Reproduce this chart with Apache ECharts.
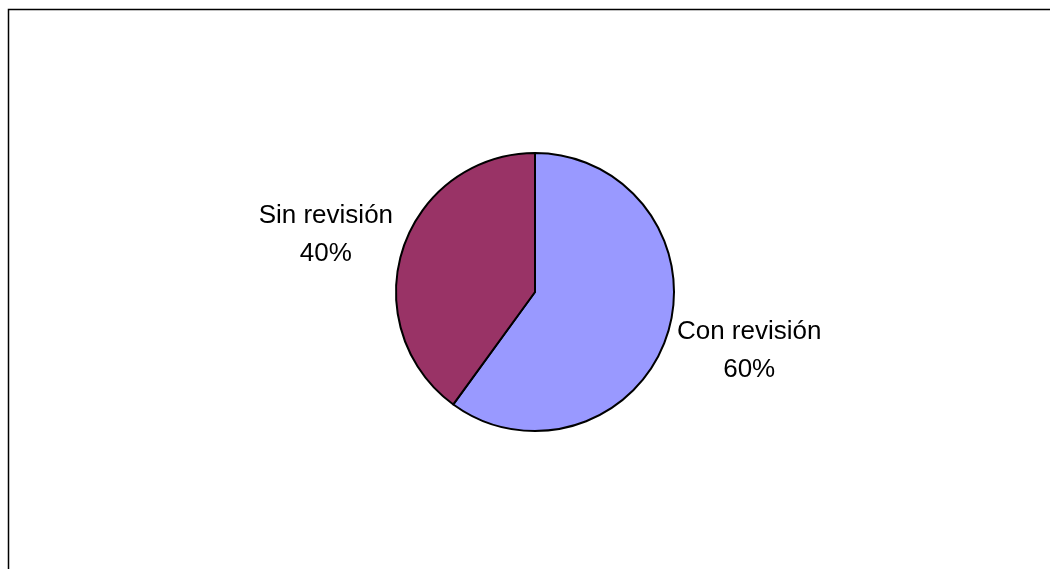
<!DOCTYPE html>
<html>
<head>
<meta charset="utf-8">
<script src="https://cdn.jsdelivr.net/npm/echarts@6/dist/echarts.min.js"></script>
<style>
  html, body { margin: 0; padding: 0; background: #fff; }
  #chart { width: 1050px; height: 569px; }
</style>
</head>
<body>
<div id="chart"></div>
<script>
const categories = ['Con revisión', 'Sin revisión'];
const values = [60, 40];
const colors = ['#9999FF', '#993366'];

const labelPads = [[28, 0, 0, 0], [0, 0, 26, 0]];

const chart = echarts.init(document.getElementById('chart'), null, { renderer: 'canvas' });
const txt = { fontFamily: 'Liberation Sans, Arial, sans-serif', fontSize: 26, lineHeight: 38, color: '#000', align: 'center' };
chart.setOption({
  animation: false,
  backgroundColor: '#ffffff',
  graphic: [{
    type: 'rect',
    shape: { x: 8.5, y: 9.5, width: 1200, height: 700 },
    style: { fill: 'none', stroke: '#000', lineWidth: 1.5 },
    z: 0
  }],
  series: [{
    type: 'pie',
    center: [535, 292],
    radius: 139,
    startAngle: 90,
    clockwise: true,
    avoidLabelOverlap: false,
    itemStyle: { borderColor: '#000', borderWidth: 2 },
    emphasis: { disabled: true },
    labelLine: { show: false, length: 5, length2: 0 },
    label: {
      show: true,
      position: 'outside',
      fontFamily: 'Liberation Sans, Arial, sans-serif',
      fontSize: 26,
      lineHeight: 38,
      color: '#000',
      distanceToLabelLine: 5,
      formatter: p => '{t|' + p.name + '}\n{t|' + Math.round(p.percent) + '%}',
      rich: { t: txt }
    },
    data: categories.map((c, i) => ({
      name: c,
      value: values[i],
      itemStyle: { color: colors[i] },
      label: { padding: labelPads[i] }
    }))
  }]
});
</script>
</body>
</html>
